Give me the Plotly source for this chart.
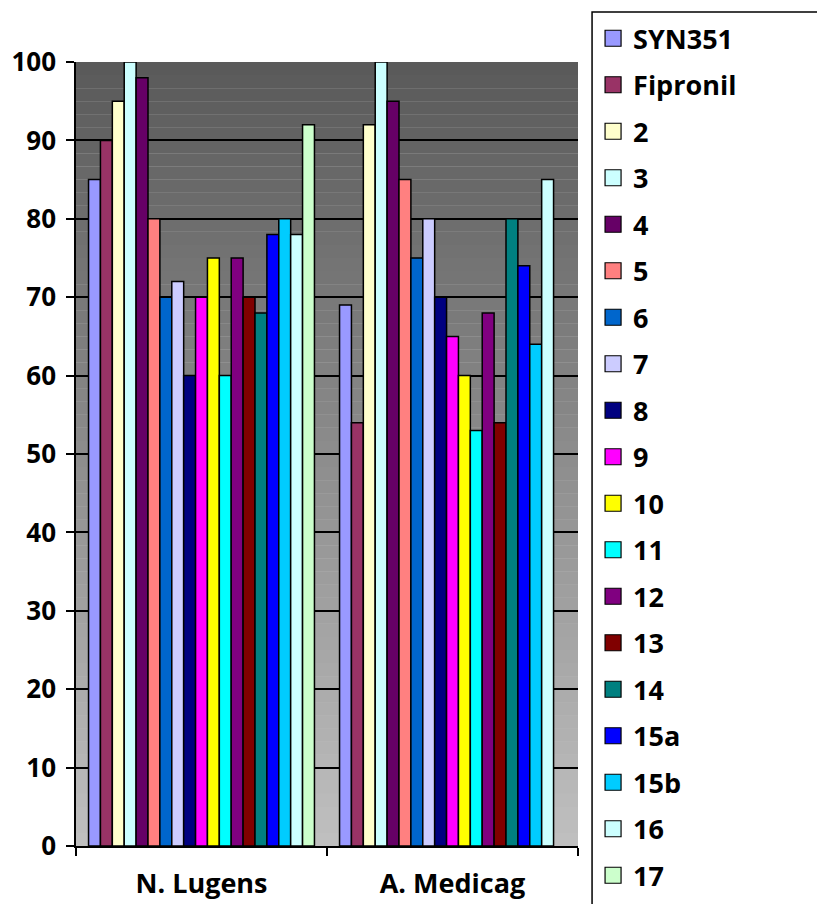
import plotly.graph_objects as go

categories = ["N. Lugens", "A. Medicag"]
series_names = ["SYN351", "Fipronil", "2", "3", "4", "5", "6", "7", "8", "9",
                "10", "11", "12", "13", "14", "15a", "15b", "16", "17"]
n_lugens = [85, 90, 95, 100, 98, 80, 70, 72, 60, 70, 75, 60, 75, 70, 68, 78, 80, 78, 92]
a_medicag = [69, 54, 92, 100, 95, 85, 75, 80, 70, 65, 60, 53, 68, 54, 80, 74, 64, 85, None]
colors = ["#9999FF", "#993366", "#FFFFCC", "#CCFFFF", "#660066", "#FF8080", "#0066CC",
          "#CCCCFF", "#000080", "#FF00FF", "#FFFF00", "#00FFFF", "#800080", "#800000",
          "#008080", "#0000FF", "#00CCFF", "#CCFFFF", "#CCFFCC"]
y_ticks = list(range(0, 101, 10))

FONT = "Open Sans"
FS = 27

fig = go.Figure()
for i, name in enumerate(series_names):
    fig.add_trace(go.Bar(
        x=categories, y=[n_lugens[i], a_medicag[i]], name=name,
        marker=dict(color=colors[i], line=dict(color="black", width=1.5)),
        showlegend=False, legendgroup=name,
    ))
for i, name in enumerate(series_names):
    fig.add_trace(go.Scatter(
        x=[None], y=[None], mode="markers", name=name, legendgroup=name,
        marker=dict(symbol="square", size=16, color=colors[i],
                    line=dict(color="black", width=1.2)),
        showlegend=True,
    ))

# gradient background of the chart wall
shapes = []
nb = 60
top_c = (89, 89, 89)
bot_c = (192, 192, 192)
for k in range(nb):
    t = (k + 0.5) / nb
    c = tuple(int(round(top_c[j] + (bot_c[j] - top_c[j]) * t)) for j in range(3))
    shapes.append(dict(type="rect", xref="x domain", yref="y domain",
                       x0=0, x1=1, y0=1 - k / nb, y1=1 - (k + 1) / nb,
                       fillcolor="rgb(%d,%d,%d)" % c, line=dict(width=0), layer="below"))
# legend frame
shapes.append(dict(type="rect", xref="paper", yref="paper",
                   x0=1.028, x1=1.6, y0=1.0638, y1=-0.1,
                   line=dict(color="black", width=1.5), fillcolor="rgba(0,0,0,0)"))

fig.update_layout(
    width=825, height=904,
    margin=dict(l=68, r=255, t=54, b=66, autoexpand=False),
    paper_bgcolor="white", plot_bgcolor="#bbbbbb",
    barmode="group", bargap=0.1, bargroupgap=0,
    font=dict(family=FONT, size=FS, color="black", weight="bold"),
    shapes=shapes,
    legend=dict(x=1.03, y=1.061, xanchor="left", yanchor="top",
                traceorder="grouped", tracegroupgap=8.4,
                font=dict(family=FONT, size=FS, color="black", weight="bold"),
                bgcolor="rgba(0,0,0,0)", borderwidth=0, maxheight=2000,
                itemsizing="trace"),
    xaxis=dict(type="category", showgrid=False, showline=True, linecolor="black",
               linewidth=1.5, ticks="outside", tickson="boundaries", ticklen=8,
               tickcolor="black", tickwidth=1.5, ticklabelstandoff=13,
               tickfont=dict(family=FONT, size=FS, weight="bold")),
    yaxis=dict(range=[0, 100], tickvals=y_ticks, showgrid=True, gridcolor="black",
               gridwidth=1.5, showline=True, linecolor="black", linewidth=1.5,
               ticks="outside", ticklen=8, tickcolor="black", tickwidth=1.5,
               zeroline=False, ticklabelstandoff=5,
               tickfont=dict(family=FONT, size=26, weight="bold")),
)

fig.write_html("out.html")
